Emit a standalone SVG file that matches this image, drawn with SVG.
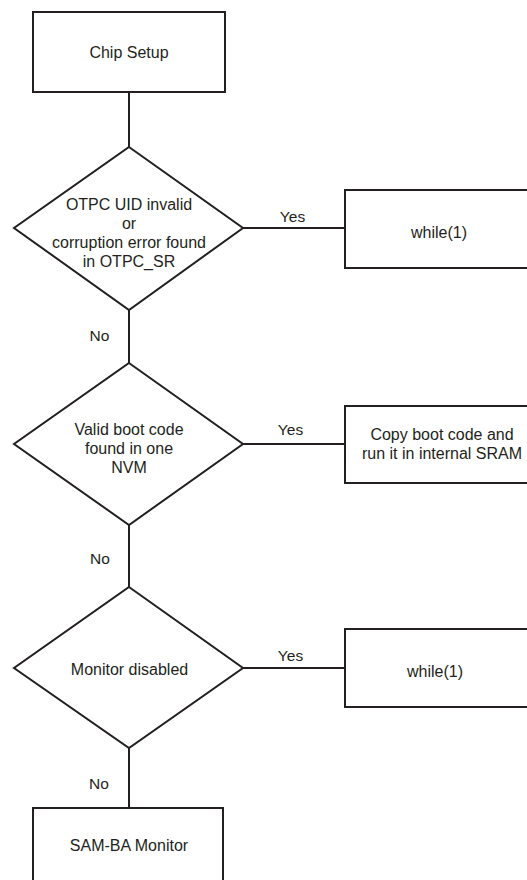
<svg xmlns="http://www.w3.org/2000/svg" width="527" height="880" viewBox="0 0 527 880">
<style>
.shape{fill:#fff;stroke:#231f20;stroke-width:2}
.conn{fill:none;stroke:#231f20;stroke-width:2}
text{font-family:"Liberation Sans",Arial,sans-serif;font-size:16px;fill:#231f20;text-anchor:middle}
.lbl{font-size:15.5px}
</style>
<rect width="527" height="880" fill="#fff"/>
<g id="connectors">
<line class="conn" x1="129" y1="92" x2="129" y2="147"/>
<line class="conn" x1="243" y1="228" x2="345" y2="228"/>
<line class="conn" x1="129" y1="310" x2="129" y2="363"/>
<line class="conn" x1="243" y1="444" x2="345" y2="444"/>
<line class="conn" x1="129" y1="525" x2="129" y2="587"/>
<line class="conn" x1="243" y1="668" x2="345" y2="668"/>
<line class="conn" x1="129" y1="748" x2="129" y2="808"/>
<text class="lbl" x="292.5" y="222">Yes</text>
<text class="lbl" x="99.5" y="341">No</text>
<text class="lbl" x="290.5" y="435">Yes</text>
<text class="lbl" x="100" y="564">No</text>
<text class="lbl" x="290.5" y="661">Yes</text>
<text class="lbl" x="99" y="789">No</text>
</g>
<g id="chip-setup">
<rect class="shape" x="33" y="12" width="192" height="80"/>
<text x="129" y="58">Chip Setup</text>
</g>
<g id="otpc-check">
<polygon class="shape" points="129,147 243,228 129,310 14,228"/>
<text x="129" y="210">OTPC UID invalid</text>
<text x="129" y="229">or</text>
<text x="129" y="248">corruption error found</text>
<text x="129" y="267">in OTPC_SR</text>
</g>
<g id="while1-a">
<rect class="shape" x="345" y="190" width="200" height="78"/>
<text x="439" y="238">while(1)</text>
</g>
<g id="boot-check">
<polygon class="shape" points="129,363 243,444 129,525 14,444"/>
<text x="129" y="435">Valid boot code</text>
<text x="129" y="454">found in one</text>
<text x="129" y="473">NVM</text>
</g>
<g id="copy-boot">
<rect class="shape" x="345" y="406" width="200" height="77"/>
<text x="442" y="440">Copy boot code and</text>
<text x="442" y="459">run it in internal SRAM</text>
</g>
<g id="monitor-check">
<polygon class="shape" points="129,587 243,668 129,748 14,668"/>
<text x="129.5" y="675">Monitor disabled</text>
</g>
<g id="while1-b">
<rect class="shape" x="345" y="629" width="200" height="78"/>
<text x="435" y="677">while(1)</text>
</g>
<g id="samba">
<rect class="shape" x="33" y="808" width="190" height="90"/>
<text x="129" y="851">SAM-BA Monitor</text>
</g>
</svg>
